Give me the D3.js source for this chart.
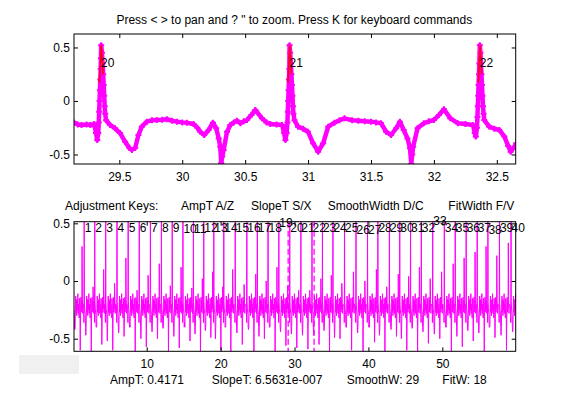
<!DOCTYPE html>
<html>
<head>
<meta charset="utf-8">
<script src="https://cdn.jsdelivr.net/npm/d3@7"></script>
<style>
body { margin: 0; background: #fff; }
svg text { font-family: "Liberation Sans", Arial, sans-serif; font-size: 12px; fill: #000; }
</style>
</head>
<body>
<div id="chart"></div>
<script>
// ---- data ----
// zoomed window (top panel)
const topT = [29.14,29.17,29.20,29.24,29.27,29.30,29.315,29.325,29.333,29.337,29.340,29.343,29.346,29.349,29.352,29.354,29.356,29.362,29.367,29.372,29.376,29.380,29.384,29.388,29.395,
  29.427,29.466,29.506,29.546,29.58,29.60,29.626,29.652,29.679,29.719,29.76,29.798,29.84,29.878,29.92,29.958,30.00,30.037,30.09,30.12,30.143,30.175,30.21,30.244,30.27,30.29,30.302,30.31,30.318,30.329,30.356,30.382,30.41,30.435,30.462,30.49,30.515,30.55,30.581,30.634,30.67,30.70,30.75,30.793,30.81,30.82,
  30.83,30.836,30.839,30.842,30.845,30.848,30.851,30.853,30.858,30.863,30.868,30.872,30.876,30.880,30.884,30.892,
  30.92,30.96,30.999,31.04,31.08,31.12,31.16,31.21,31.25,31.29,31.35,31.40,31.45,31.50,31.54,31.58,31.62,31.66,31.70,31.73,31.76,31.79,31.81,31.82,31.828,31.835,31.87,31.92,31.96,32.00,32.04,32.08,32.13,32.19,32.25,32.31,32.325,32.333,
  32.342,32.346,32.349,32.352,32.355,32.358,32.361,32.365,32.370,32.374,32.378,32.382,32.386,32.390,32.395,32.40,
  32.44,32.48,32.52,32.56,32.59,32.61,32.64,32.655];
const topV = [-0.20,-0.22,-0.225,-0.22,-0.225,-0.215,-0.30,-0.365,-0.30,-0.20,-0.10,0.00,0.10,0.20,0.30,0.40,0.52,0.45,0.35,0.25,0.15,0.05,-0.05,-0.12,-0.18,
  -0.224,-0.255,-0.30,-0.38,-0.44,-0.457,-0.44,-0.318,-0.24,-0.193,-0.18,-0.178,-0.175,-0.171,-0.185,-0.193,-0.20,-0.203,-0.215,-0.25,-0.287,-0.318,-0.271,-0.203,-0.255,-0.35,-0.427,-0.58,-0.52,-0.458,-0.287,-0.224,-0.20,-0.184,-0.208,-0.19,-0.178,-0.13,-0.084,-0.162,-0.20,-0.215,-0.22,-0.224,-0.30,-0.364,
  -0.30,-0.20,-0.10,0.00,0.10,0.20,0.30,0.52,0.45,0.35,0.25,0.15,0.05,-0.05,-0.12,-0.18,
  -0.24,-0.26,-0.287,-0.395,-0.474,-0.395,-0.24,-0.203,-0.18,-0.162,-0.18,-0.184,-0.19,-0.193,-0.20,-0.208,-0.287,-0.318,-0.255,-0.193,-0.271,-0.35,-0.442,-0.589,-0.50,-0.427,-0.255,-0.208,-0.19,-0.178,-0.131,-0.078,-0.162,-0.208,-0.215,-0.224,-0.30,-0.333,
  -0.25,-0.15,-0.05,0.05,0.15,0.25,0.35,0.52,0.45,0.35,0.25,0.15,0.05,-0.05,-0.12,-0.178,
  -0.24,-0.26,-0.271,-0.333,-0.42,-0.474,-0.427,-0.395];
const topPeakT = [29.355, 30.853, 32.365];
const topPeakNum = [20, 21, 22];
const topLabelV = [0.355, 0.36, 0.36];
const fitDT = [-0.013, 0.002, 0.016];
const fitV = [0.17, 0.52, 0.25];

// full record (bottom panel): one row per beat
const beatT = [0.05,1.54,2.97,4.45,5.98,7.49,8.99,10.50,11.99,13.45,14.90,16.32,17.72,19.08,20.43,21.98,23.55,24.97,26.42,27.88,29.355,30.86,32.365,33.78,35.20,36.77,38.32,39.88,41.28,42.84,44.24,45.70,47.16,48.70,50.27,51.75,53.23,54.72,56.17,57.73,59.30];
const beatR = [0.50,0.56,0.55,0.57,0.55,0.56,0.54,0.55,0.57,0.55,0.53,0.54,0.55,0.56,0.55,0.54,0.56,0.55,0.55,0.57,0.52,0.52,0.52,0.55,0.56,0.55,0.53,0.54,0.55,0.56,0.55,0.54,0.56,0.58,0.55,0.56,0.55,0.54,0.53,0.55,0.56];
const beatTdip = [-0.42,-0.47,-0.40,-0.52,-0.45,-0.38,-0.50,-0.44,-0.41,-0.48,-0.36,-0.46,-0.43,-0.50,-0.39,-0.45,-0.42,-0.48,-0.40,-0.44,-0.46,-0.47,-0.47,-0.43,-0.49,-0.40,-0.45,-0.38,-0.47,-0.42,-0.50,-0.41,-0.44,-0.46,-0.39,-0.48,-0.43,-0.45,-0.40,-0.47,-0.44];
const beatS = [-0.60,-0.62,-0.55,-0.60,-0.48,-0.62,-0.57,-0.50,-0.62,-0.58,-0.52,-0.62,-0.49,-0.60,-0.62,-0.55,-0.61,-0.50,-0.62,-0.56,-0.58,-0.59,-0.55,-0.62,-0.50,-0.60,-0.62,-0.53,-0.61,-0.48,-0.60,-0.62,-0.54,-0.50,-0.62,-0.57,-0.52,-0.61,-0.49,-0.60,-0.58];
const beatBump = [0.30,-0.05,0.10,-0.02,0.20,-0.08,0.05,0.15,-0.04,0.12,-0.06,0.02,0.08,-0.05,0.10,-0.03,0.06,0.00,0.12,-0.04,-0.08,-0.08,0.02,0.05,-0.02,0.08,0.00,0.10,-0.05,0.06,0.04,0.12,0.02,0.08,0.15,0.20,0.25,0.30,0.22,0.33,0.10];
// beat shape around each R peak (seconds from R, value); letters = per-beat value
const shapeDT = [-0.07,-0.035,0,0.025,0.07,0.14,0.18,0.22,0.26,0.30,0.34,0.38,0.43,0.48,0.53,0.58,0.63,0.68,0.72,0.77,0.81,0.85,0.88,0.92,0.955,0.975,1.01,1.05,1.09,1.13,1.17,1.20,1.25,1.29,1.33];
const shapeV  = [-0.22,-0.36,"R",-0.18,-0.24,-0.29,-0.40,"T",-0.40,-0.24,-0.13,-0.27,-0.16,-0.30,-0.17,-0.25,-0.11,-0.28,-0.20,-0.29,-0.32,-0.15,-0.19,-0.28,"S",-0.43,-0.26,-0.14,-0.27,-0.17,-0.24,"B",-0.16,-0.28,-0.20];
const labelV = [0.465,0.465,0.465,0.465,0.465,0.465,0.465,0.465,0.465,0.455,0.455,0.465,0.465,0.465,0.465,0.465,0.465,0.465,0.505,0.465,0.465,0.465,0.465,0.465,0.465,0.445,0.445,0.465,0.465,0.465,0.465,0.465,0.525,0.465,0.465,0.465,0.465,0.445,0.465,0.465];

const xTicksTop = [29.5, 30, 30.5, 31, 31.5, 32, 32.5];
const xTicksBot = [10, 20, 30, 40, 50];
const yTicks = [-0.5, 0, 0.5];

const title1 = 'Press < > to pan and ? " to zoom. Press K for keyboard commands';
const title2 = [["Adjustment Keys:", 65], ["AmpT A/Z", 181], ["SlopeT S/X", 251], ["SmoothWidth D/C", 327.7], ["FitWidth F/V", 448.3]];
const xlabel2 = [["AmpT: 0.4171", 110], ["SlopeT: 6.5631e-007", 211.7], ["SmoothW: 29", 346.7], ["FitW: 18", 442.3]];

// ---- chart ----
const width = 569, height = 394;
const magenta = "#ff00ff";

const svg = d3.select("#chart")
  .append("svg")
    .attr("width", width)
    .attr("height", height);

const L = 74, R = 515.7;
const top1 = 34, bot1 = 164;
const top2 = 221.7, bot2 = 351.3;

const x1 = d3.scaleLinear().domain([29.14, 32.65]).range([L, R]);
const y1 = d3.scaleLinear().domain([-0.589, 0.626]).range([bot1, top1]);
const x2 = d3.scaleLinear().domain([0.16, 59.93]).range([L, R]);
const y2 = d3.scaleLinear().domain([-0.609, 0.514]).range([bot2, top2]);

const defs = svg.append("defs");
defs.append("clipPath").attr("id", "clip1")
  .append("rect").attr("x", L).attr("y", top1).attr("width", R - L).attr("height", bot1 - top1);
defs.append("clipPath").attr("id", "clip2")
  .append("rect").attr("x", L).attr("y", top2).attr("width", R - L).attr("height", bot2 - top2);

function frame(x, y, yTop, yBot, xTicks, fmtX) {
  const fmt = d => String(d);
  svg.append("g").attr("transform", `translate(0, ${yBot})`)
    .call(d3.axisBottom(x).tickValues(xTicks).tickSize(-4).tickPadding(8).tickFormat(fmtX));
  svg.append("g").attr("transform", `translate(0, ${yTop})`)
    .call(d3.axisTop(x).tickValues(xTicks).tickSize(-4).tickFormat(""));
  svg.append("g").attr("transform", `translate(${L}, 0)`)
    .call(d3.axisLeft(y).tickValues(yTicks).tickSize(-4).tickPadding(4).tickFormat(fmt));
  svg.append("g").attr("transform", `translate(${R}, 0)`)
    .call(d3.axisRight(y).tickValues(yTicks).tickSize(-4).tickFormat(""));
  svg.selectAll(".domain").remove();
  svg.append("rect")
    .attr("x", L).attr("y", yTop).attr("width", R - L).attr("height", yBot - yTop)
    .attr("fill", "none").attr("stroke", "#000").attr("stroke-width", 1);
}

// top panel
const topData = topT.map((t, i) => [t, topV[i]]);
const g1 = svg.append("g").attr("clip-path", "url(#clip1)");
g1.append("path")
  .datum(topData)
  .attr("d", d3.line().x(d => x1(d[0])).y(d => y1(d[1])))
  .attr("fill", "none").attr("stroke", magenta).attr("stroke-width", 4.5)
  .attr("stroke-linejoin", "round");
g1.selectAll("path.mk")
  .data(topData)
  .enter()
  .append("path")
    .attr("class", "mk")
    .attr("d", d => `M${x1(d[0]) - 3},${y1(d[1])}h6M${x1(d[0])},${y1(d[1]) - 3}v6`)
    .attr("stroke", magenta).attr("stroke-width", 2);
topPeakT.forEach(p => {
  g1.append("path")
    .datum(fitDT.map((dt, i) => [p + dt, fitV[i]]))
    .attr("d", d3.line().x(d => x1(d[0])).y(d => y1(d[1])))
    .attr("fill", "none").attr("stroke", "#ff0000").attr("stroke-width", 1.5);
});
svg.selectAll("text.pk1")
  .data(topPeakT)
  .enter()
  .append("text")
    .attr("class", "pk1")
    .attr("x", d => x1(d))
    .attr("y", (d, i) => y1(topLabelV[i]))
    .attr("dy", "0.35em")
    .text((d, i) => topPeakNum[i]);

frame(x1, y1, top1, bot1, xTicksTop, d => String(d));

svg.append("text")
  .attr("x", 294.3).attr("y", 24)
  .attr("text-anchor", "middle")
  .text(title1);

// bottom panel
const full = [];
beatT.forEach((t0, b) => {
  const next = b + 1 < beatT.length ? beatT[b + 1] + shapeDT[0] : Infinity;
  shapeDT.forEach((dt, k) => {
    const t = t0 + dt;
    if (t >= next) return;
    let v = shapeV[k];
    if (v === "R") v = beatR[b];
    else if (v === "T") v = beatTdip[b];
    else if (v === "S") v = beatS[b];
    else if (v === "B") v = beatBump[b];
    full.push([t, v]);
  });
});

const g2 = svg.append("g").attr("clip-path", "url(#clip2)");
g2.append("path")
  .datum(full)
  .attr("d", d3.line().x(d => x2(d[0])).y(d => y2(d[1])))
  .attr("fill", "none").attr("stroke", magenta).attr("stroke-width", 1);

g2.selectAll("line.win")
  .data(x1.domain())
  .enter()
  .append("line")
    .attr("class", "win")
    .attr("x1", d => x2(d)).attr("x2", d => x2(d))
    .attr("y1", top2).attr("y2", bot2)
    .attr("stroke", magenta).attr("stroke-width", 1.3)
    .attr("stroke-dasharray", "6,3");

svg.selectAll("text.pk2")
  .data(beatT.slice(1))
  .enter()
  .append("text")
    .attr("class", "pk2")
    .attr("x", d => x2(d) + 0.5)
    .attr("y", (d, i) => y2(labelV[i]))
    .attr("dy", "0.35em")
    .text((d, i) => i + 1);

frame(x2, y2, top2, bot2, xTicksBot, d => String(d));

svg.selectAll("text.t2")
  .data(title2)
  .enter()
  .append("text")
    .attr("class", "t2")
    .attr("x", d => d[1]).attr("y", 210)
    .text(d => d[0]);

svg.selectAll("text.xl2")
  .data(xlabel2)
  .enter()
  .append("text")
    .attr("class", "xl2")
    .attr("x", d => d[1]).attr("y", 384)
    .text(d => d[0]);

// grey box bottom left
svg.append("rect")
  .attr("x", 19).attr("y", 355).attr("width", 60).attr("height", 19)
  .attr("fill", "#f0f0f0");
</script>
</body>
</html>
